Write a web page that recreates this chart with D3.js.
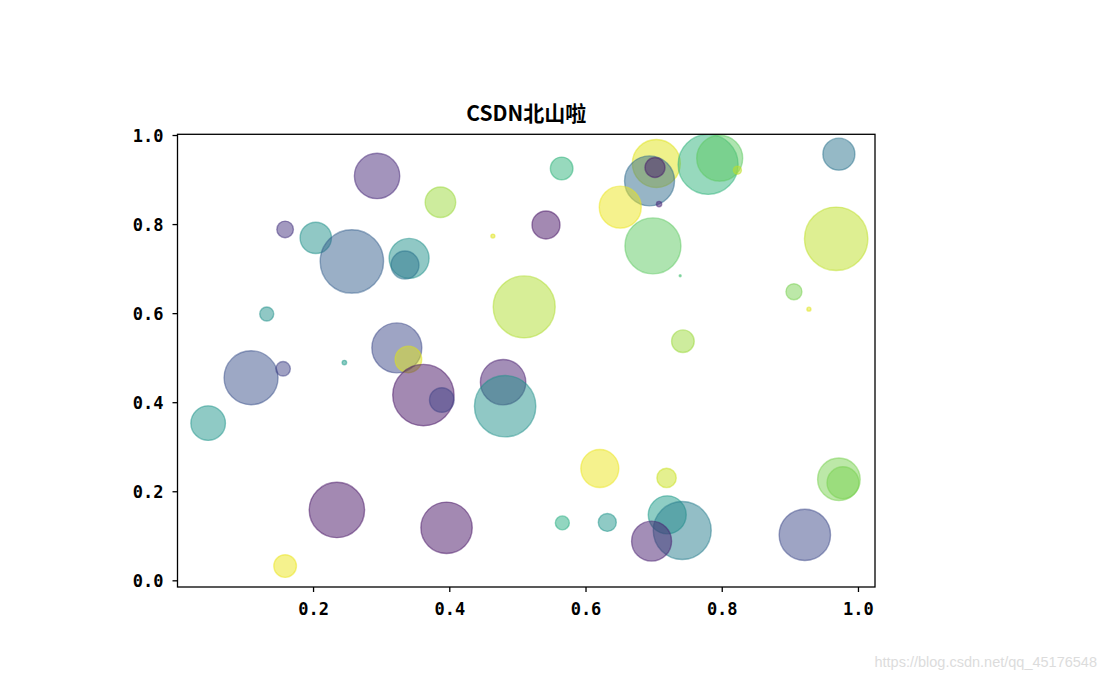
<!DOCTYPE html>
<html>
<head>
<meta charset="utf-8">
<script src="https://cdn.jsdelivr.net/npm/d3@7"></script>
<style>
  html, body { margin: 0; padding: 0; background: #fff; }
  svg { display: block; }
</style>
</head>
<body>
<svg id="chart" width="1108" height="679"></svg>
<script>
// ---- data ----
const xValues = [0.294,0.387,0.159,0.204,0.257,0.341,0.335,0.464,0.132,0.510,
                 0.323,0.340,0.109,0.156,0.246,0.362,0.389,0.479,0.482,0.046,
                 0.235,0.396,0.159,0.565,0.704,0.694,0.702,0.708,0.780,0.797,
                 0.823,0.972,0.651,0.542,0.699,0.739,0.968,0.906,0.928,0.743,
                 0.621,0.719,0.566,0.632,0.720,0.742,0.697,0.922,0.972,0.978];
const yValues = [0.908,0.849,0.788,0.769,0.716,0.723,0.708,0.773,0.598,0.614,
                 0.522,0.496,0.455,0.475,0.489,0.416,0.405,0.445,0.391,0.353,
                 0.158,0.118,0.032,0.925,0.936,0.897,0.927,0.845,0.934,0.948,
                 0.921,0.957,0.838,0.798,0.751,0.684,0.767,0.648,0.609,0.537,
                 0.251,0.230,0.129,0.130,0.147,0.112,0.088,0.102,0.227,0.219];
const sizeValues = [515,234,69,246,1005,400,196,4,49,961,
                    625,177,729,53,5,942,151,515,942,299,
                    767,660,128,128,576,625,100,7,900,529,
                    16,256,441,196,784,1,1005,64,4,128,
                    361,94,49,81,361,841,400,660,454,256];
const colorValues = [0.12,0.85,0.15,0.50,0.30,0.50,0.38,0.95,0.50,0.88,
                     0.22,0.95,0.25,0.20,0.55,0.05,0.20,0.08,0.50,0.52,
                     0.05,0.05,0.97,0.65,0.95,0.35,0.07,0.10,0.65,0.75,
                     0.90,0.38,0.97,0.05,0.75,0.70,0.90,0.80,0.95,0.85,
                     0.97,0.92,0.62,0.52,0.55,0.42,0.08,0.22,0.80,0.80];
const xTicks = [0.2, 0.4, 0.6, 0.8, 1.0];
const yTicks = [0.0, 0.2, 0.4, 0.6, 0.8, 1.0];
const titleText = "CSDN北山啦";
const watermark = "https://blog.csdn.net/qq_45176548";

const points = xValues.map((x, i) => ({x, y: yValues[i], s: sizeValues[i], c: colorValues[i]}));

// ---- layout ----
const svg = d3.select("#chart");
const plot = {left: 177.5, right: 875, top: 134.3, bottom: 587};

const x = d3.scaleLinear().domain([0.001, 1.025]).range([plot.left, plot.right]);
const y = d3.scaleLinear().domain([-0.015, 1.0016]).range([plot.bottom, plot.top]);
const r = d3.scaleSqrt().domain([0, 1000]).range([0, 31.6]);
const color = d3.scaleSequential(d3.interpolateViridis).domain([0, 1]);

svg.append("clipPath").attr("id", "clip")
  .append("rect")
  .attr("x", plot.left).attr("y", plot.top)
  .attr("width", plot.right - plot.left).attr("height", plot.bottom - plot.top);

svg.append("g").attr("clip-path", "url(#clip)")
  .selectAll("circle")
  .data(points)
  .join("circle")
  .attr("cx", d => x(d.x))
  .attr("cy", d => y(d.y))
  .attr("r", d => r(d.s))
  .attr("fill", d => color(d.c))
  .attr("fill-opacity", 0.5)
  .attr("stroke", d => color(d.c))
  .attr("stroke-opacity", 0.5)
  .attr("stroke-width", 1.4);

// frame
svg.append("rect")
  .attr("x", plot.left).attr("y", plot.top)
  .attr("width", plot.right - plot.left).attr("height", plot.bottom - plot.top)
  .attr("fill", "none").attr("stroke", "#000").attr("stroke-width", 1.3);

const tickFont = "'DejaVu Sans Mono', monospace";

const xAxis = svg.append("g")
  .attr("transform", `translate(0,${plot.bottom})`)
  .call(d3.axisBottom(x).tickValues(xTicks).tickFormat(d3.format(".1f")).tickSize(5).tickPadding(8));
const yAxis = svg.append("g")
  .attr("transform", `translate(${plot.left},0)`)
  .call(d3.axisLeft(y).tickValues(yTicks).tickFormat(d3.format(".1f")).tickSize(5).tickPadding(9));

[xAxis, yAxis].forEach(g => {
  g.select(".domain").remove();
  g.selectAll(".tick line").attr("stroke", "#000").attr("stroke-width", 1.3);
  g.selectAll(".tick text")
    .attr("fill", "#000")
    .style("font-family", tickFont)
    .style("font-size", "17px")
    .style("font-weight", "bold");
});
yAxis.selectAll(".tick text").attr("dy", "0.36em");
xAxis.selectAll(".tick text").attr("dy", "0.9em");

// title
svg.append("text")
  .attr("x", (plot.left + plot.right) / 2)
  .attr("y", 121)
  .attr("text-anchor", "middle")
  .style("font-family", "'Noto Sans CJK SC', sans-serif")
  .style("font-size", "21px")
  .style("font-weight", "bold")
  .text(titleText);

// watermark
svg.append("text")
  .attr("x", 1097)
  .attr("y", 667)
  .attr("text-anchor", "end")
  .attr("fill", "#dcdcdc")
  .style("font-family", "'Liberation Sans', Arial, sans-serif")
  .style("font-size", "14.5px")
  .text(watermark);
</script>
</body>
</html>
